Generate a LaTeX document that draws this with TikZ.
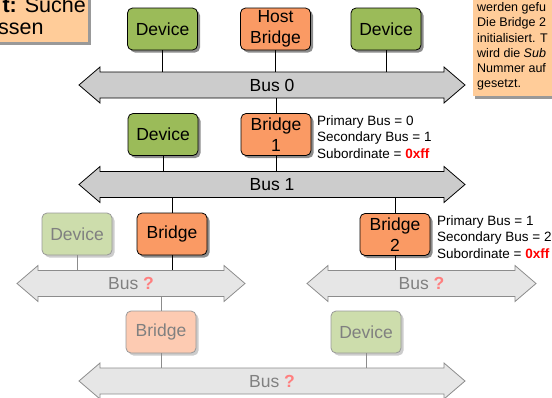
\documentclass[tikz,border=0pt]{standalone}
\usepackage{fontspec}
\setmainfont{Liberation Sans}
\usetikzlibrary{shadows}
\definecolor{devgreen}{HTML}{9BBB59}
\definecolor{brorange}{HTML}{FA9A64}
\definecolor{fadegreen}{HTML}{CDDDAC}
\definecolor{fadeorange}{HTML}{FDCBB2}
\definecolor{busgray}{HTML}{CCCCCC}
\definecolor{fadebus}{HTML}{E6E6E6}
\definecolor{peach}{HTML}{FFCC99}
\definecolor{qred}{HTML}{FF7F7F}
\newcommand\busshape[6]{%
  \draw[#5] (#2,#4) -- ({#2+21},{#4-18}) -- ({#2+21},{#4-13}) -- ({#3-21},{#4-13}) -- ({#3-21},{#4-18}) -- (#3,#4) -- ({#3-21},{#4+18}) -- ({#3-21},{#4+13}) -- ({#2+21},{#4+13}) -- ({#2+21},{#4+18}) -- cycle;
  \node[buslabel, minimum width={#3-#2-42}] (#1) at ({(#2+#3)/2},#4) {#6};
}
\tikzset{
  unit/.style={rectangle, rounded corners=5pt, minimum width=70pt, minimum height=42pt, inner sep=1pt, align=center, font=\fontsize{17.5}{21}\selectfont, line width=0.8pt},
  activebox/.style={unit, draw=black, drop shadow={shadow xshift=2.5pt, shadow yshift=-2.5pt, fill=black!45, opacity=1}},
  fadedbox/.style={unit, draw=black!40, text=black!50, drop shadow={shadow xshift=2.5pt, shadow yshift=-2.5pt, fill=black!20, opacity=1}},
  buslabel/.style={inner sep=0pt, minimum height=26pt, font=\fontsize{17.5}{21}\selectfont},
  busactive/.style={fill=busgray, draw=black, line width=0.8pt},
  busfaded/.style={fill=fadebus, draw=black!45, line width=0.8pt},
  conn/.style={draw=black, line width=0.8pt},
  fconn/.style={draw=black!45, line width=0.8pt},
  annot/.style={anchor=north west, inner sep=0pt, align=left, font=\fontsize{13.5}{16.5}\selectfont},
}
\begin{document}
\begin{tikzpicture}[x=1pt, y=-1pt]
\path[use as bounding box, clip] (0,0) rectangle (552,397);

% notes (cropped)
\path[fill=peach, draw=black!40, line width=0.6pt, drop shadow={shadow xshift=3pt, shadow yshift=-3pt, fill=black!40, opacity=1}] (-10,-10) rectangle (88,42);
\node[anchor=base east, inner sep=0pt, font=\fontsize{21.5}{22}\selectfont] (n1a) at (86,12) {\textbf{t:} Suche};
\node[anchor=base west, inner sep=0pt, font=\fontsize{21.5}{22}\selectfont] (n1b) at (-2,34) {ssen};

\path[fill=peach, drop shadow={shadow xshift=2pt, shadow yshift=-3pt, fill=black!40, opacity=1}] (473,-10) rectangle (570,96);
\node[anchor=north west, inner sep=0pt, align=left, font=\fontsize{12.5}{15.2}\selectfont] (n2) at (477,2.4)
  {werden gefu\\Die Bridge 2\\initialisiert. T\\wird die \textit{Sub}\\Nummer auf\\gesetzt.};

% buses
\busshape{bus0}{79}{465}{85}{busactive}{Bus 0}
\busshape{bus1}{79}{465}{184.5}{busactive}{Bus 1}
\busshape{busL}{17}{245}{283.5}{busfaded}{\textcolor{black!50}{Bus \textcolor{qred}{\textbf{?}}}}
\busshape{busR}{307}{536}{283.5}{busfaded}{\textcolor{black!50}{Bus \textcolor{qred}{\textbf{?}}}}
\busshape{busB}{79}{465}{381}{busfaded}{\textcolor{black!50}{Bus \textcolor{qred}{\textbf{?}}}}

% row 1
\node[activebox, fill=devgreen] (d1) at (162.5,29) {Device};
\node[activebox, fill=brorange] (hb) at (275.5,29) {Host\\Bridge};
\node[activebox, fill=devgreen] (d3) at (386,29) {Device};
% row 2
\node[activebox, fill=devgreen] (d2) at (163,134.5) {Device};
\node[activebox, fill=brorange] (br1) at (276,134.5) {Bridge\\1};
\node[annot] (a1) at (317,115.5) {Primary Bus = 0\\Secondary Bus = 1\\Subordinate = \textcolor{red}{\textbf{0xff}}};
% row 3
\node[fadedbox, fill=fadegreen] (d4) at (77,234) {Device};
\node[activebox, fill=brorange] (br3) at (172,234) {Bridge};
\node[activebox, fill=brorange] (br2) at (395,234.5) {Bridge\\2};
\node[annot] (a2) at (437,215.5) {Primary Bus = 1\\Secondary Bus = 2\\Subordinate = \textcolor{red}{\textbf{0xff}}};
% row 4
\node[fadedbox, fill=fadeorange] (br4) at (161,332) {Bridge};
\node[fadedbox, fill=fadegreen] (d5) at (366,332) {Device};

% connectors
\draw[conn] (d1.south) -- (d1.south |- bus0.north);
\draw[conn] (hb.south) -- (hb.south |- bus0.north);
\draw[conn] (d3.south) -- (d3.south |- bus0.north);
\draw[conn] (br1.north) -- (br1.north |- bus0.south);
\draw[conn] (d2.south) -- (d2.south |- bus1.north);
\draw[conn] (br1.south) -- (br1.south |- bus1.north);
\draw[conn] (br3.north) -- (br3.north |- bus1.south);
\draw[conn] (br2.north) -- (br2.north |- bus1.south);
\draw[fconn] (d4.south) -- (d4.south |- busL.north);
\draw[conn] (br3.south) -- (br3.south |- busL.north);
\draw[conn] (br2.south) -- (br2.south |- busR.north);
\draw[fconn] (br4.north) -- (br4.north |- busL.south);
\draw[fconn] (br4.south) -- (br4.south |- busB.north);
\draw[fconn] (d5.south) -- (d5.south |- busB.north);
\end{tikzpicture}
\end{document}
